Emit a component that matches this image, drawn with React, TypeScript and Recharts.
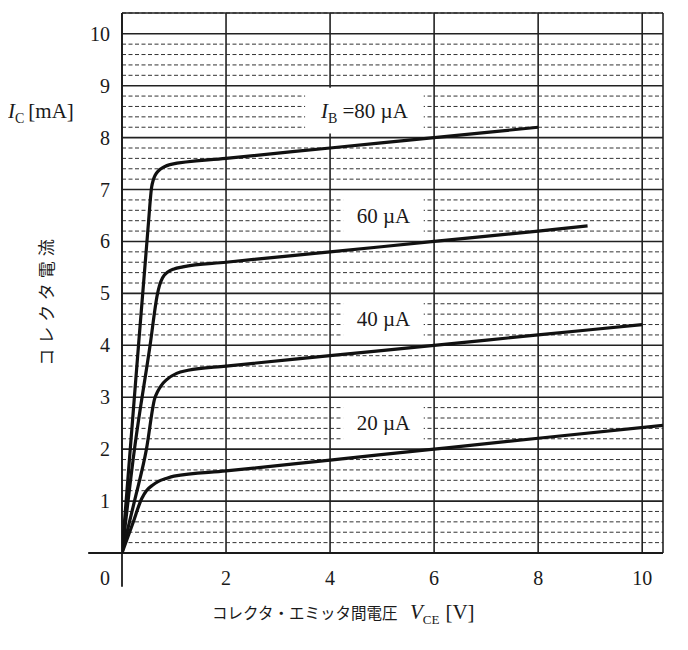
import React from "react";
import {
  LineChart,
  Line,
  XAxis,
  YAxis,
  CartesianGrid,
  ReferenceLine,
  ReferenceArea,
  Customized,
} from "recharts";

// axis ticks
const xTicks = [0, 2, 4, 6, 8, 10];
const yMajorTicks = [1, 2, 3, 4, 5, 6, 7, 8, 9, 10];
const yMinorTicks = [
  0.2, 0.4, 0.6, 0.8, 1.2, 1.4, 1.6, 1.8, 2.2, 2.4, 2.6, 2.8, 3.2, 3.4, 3.6, 3.8,
  4.2, 4.4, 4.6, 4.8, 5.2, 5.4, 5.6, 5.8, 6.2, 6.4, 6.6, 6.8, 7.2, 7.4, 7.6, 7.8,
  8.2, 8.4, 8.6, 8.8, 9.2, 9.4, 9.6, 9.8,
];

// collector current curves (VCE [V], IC [mA])
const ib80X = [0, 0.25, 0.5, 0.57, 0.6, 0.64, 0.7, 0.8, 0.92, 2, 4, 6, 8];
const ib80Y = [0, 3.15, 6.25, 7.05, 7.18, 7.28, 7.36, 7.43, 7.48, 7.6, 7.8, 8.0, 8.2];

const ib60X = [0, 0.24, 0.54, 0.68, 0.72, 0.78, 0.88, 1.0, 1.17, 2, 4, 6, 8, 8.95];
const ib60Y = [0, 2.0, 4.0, 4.98, 5.15, 5.3, 5.41, 5.47, 5.51, 5.6, 5.8, 6.0, 6.2, 6.3];

const ib40X = [0, 0.24, 0.47, 0.63, 0.68, 0.75, 0.86, 1.05, 1.27, 2, 4, 6, 8, 10];
const ib40Y = [0, 1.0, 2.0, 2.98, 3.1, 3.22, 3.34, 3.46, 3.52, 3.6, 3.8, 4.0, 4.2, 4.4];

const ib20X = [0, 0.2, 0.38, 0.47, 0.58, 0.7, 0.86, 1.0, 2, 4, 6, 8, 10.4];
const ib20Y = [0, 0.55, 1.05, 1.2, 1.3, 1.38, 1.44, 1.48, 1.58, 1.79, 2.0, 2.21, 2.46];

// label boxes: [x1, x2, y1, y2] in data units, with base current text
const boxLabels = ["80", "60", "40", "20"];
const boxX1 = [3.52, 4.25, 4.25, 4.25];
const boxX2 = [5.8, 5.8, 5.8, 5.8];
const boxY1 = [8.08, 6.05, 4.05, 2.05];
const boxY2 = [8.96, 6.95, 4.95, 2.95];

const zip = (xs: number[], ys: number[]) => xs.map((x, i) => ({ x, y: ys[i] }));

const series = [
  zip(ib80X, ib80Y),
  zip(ib60X, ib60Y),
  zip(ib40X, ib40Y),
  zip(ib20X, ib20Y),
];

const SERIF = "'Liberation Serif', 'DejaVu Serif', serif";
const JP = "'Noto Sans CJK JP', sans-serif";
const INK = "#1a1a1a";

function XTick(props: any) {
  const { x, y, payload } = props;
  const dx = payload.value === 0 ? -17 : 0;
  return (
    <text
      x={x + dx}
      y={y + 17}
      textAnchor="middle"
      dominantBaseline="central"
      fontFamily={SERIF}
      fontSize={20}
      fill={INK}
    >
      {payload.value}
    </text>
  );
}

function YTick(props: any) {
  const { x, y, payload } = props;
  return (
    <text
      x={x - 4}
      y={y}
      textAnchor="end"
      dominantBaseline="central"
      fontFamily={SERIF}
      fontSize={20}
      fill={INK}
    >
      {payload.value}
    </text>
  );
}

function BoxLabel(props: any) {
  const { viewBox, ib } = props;
  if (!viewBox) return null;
  const cx = viewBox.x + viewBox.width / 2;
  const cy = viewBox.y + viewBox.height / 2;
  if (ib === "80") {
    return (
      <text
        x={cx}
        y={cy + 7}
        textAnchor="middle"
        fontFamily={SERIF}
        fontSize={21}
        fill={INK}
      >
        <tspan fontStyle="italic">I</tspan>
        <tspan fontSize={14} dy={5}>B</tspan>
        <tspan dy={-5}> ={ib} µA</tspan>
      </text>
    );
  }
  return (
    <text
      x={cx}
      y={cy + 7}
      textAnchor="middle"
      fontFamily={SERIF}
      fontSize={21}
      fill={INK}
    >
      {ib} µA
    </text>
  );
}

function Titles() {
  return (
    <g fill={INK}>
      <text x={0} y={110} fontFamily={SERIF} fontSize={21}>
        <tspan fontStyle="italic">I</tspan>
        <tspan fontSize={14} dy={5}>C</tspan>
        <tspan dy={-5} dx={4}>[mA]</tspan>
      </text>
      <text
        x={37}
        y={292}
        transform="rotate(-90 37 292)"
        textAnchor="middle"
        dominantBaseline="central"
        fontFamily={JP}
        fontSize={17}
        letterSpacing={5}
      >
        コレクタ電流
      </text>
      <text x={204} y={611} fontFamily={JP} fontSize={15.5}>
        コレクタ・エミッタ間電圧
      </text>
      <text x={402} y={611} fontFamily={SERIF} fontSize={21}>
        <tspan fontStyle="italic">V</tspan>
        <tspan fontSize={13} dy={5}>CE</tspan>
        <tspan dy={-5} dx={6}>[V]</tspan>
      </text>
    </g>
  );
}

export default function App() {
  return (
    <div style={{ width: 680, height: 640, background: "#fff" }}>
      <LineChart
        width={680}
        height={640}
        margin={{ top: 5, right: 25, bottom: 55, left: 54 }}
      >
        <CartesianGrid
          yAxisId="minor"
          vertical={false}
          stroke="#333"
          strokeWidth={1}
          strokeDasharray="4 2.5"
        />
        <CartesianGrid yAxisId="major" stroke="#222" strokeWidth={1.6} />

        <XAxis
          dataKey="x"
          type="number"
          domain={[0, 10.4]}
          ticks={xTicks}
          interval={0}
          allowDataOverflow
          axisLine={false}
          tickLine={false}
          tick={<XTick />}
          height={40}
        />
        <YAxis
          yAxisId="major"
          type="number"
          domain={[0, 10.4]}
          ticks={yMajorTicks}
          interval={0}
          allowDataOverflow
          axisLine={false}
          tickLine={false}
          tick={<YTick />}
          width={60}
        />
        <YAxis
          yAxisId="minor"
          type="number"
          domain={[0, 10.4]}
          ticks={yMinorTicks}
          interval={0}
          allowDataOverflow
          hide
        />

        {boxLabels.map((ib, i) => (
          <ReferenceArea
            key={ib}
            yAxisId="major"
            x1={boxX1[i]}
            x2={boxX2[i]}
            y1={boxY1[i]}
            y2={boxY2[i]}
            fill="#fff"
            fillOpacity={1}
            stroke="none"
            label={<BoxLabel ib={ib} />}
          />
        ))}

        {/* axis lines, extended past the plot like the original */}
        <ReferenceLine
          yAxisId="major"
          segment={[
            { x: -0.65, y: 0 },
            { x: 10.4, y: 0 },
          ]}
          stroke={INK}
          strokeWidth={1.8}
          ifOverflow="visible"
        />
        <ReferenceLine
          yAxisId="major"
          segment={[
            { x: 0, y: -0.65 },
            { x: 0, y: 10.4 },
          ]}
          stroke={INK}
          strokeWidth={1.8}
          ifOverflow="visible"
        />

        {series.map((d, i) => (
          <Line
            key={i}
            yAxisId="major"
            data={d}
            dataKey="y"
            type="monotone"
            stroke="#111"
            strokeWidth={3.2}
            dot={false}
            activeDot={false}
            isAnimationActive={false}
          />
        ))}

        <Customized component={Titles} />
      </LineChart>
    </div>
  );
}
